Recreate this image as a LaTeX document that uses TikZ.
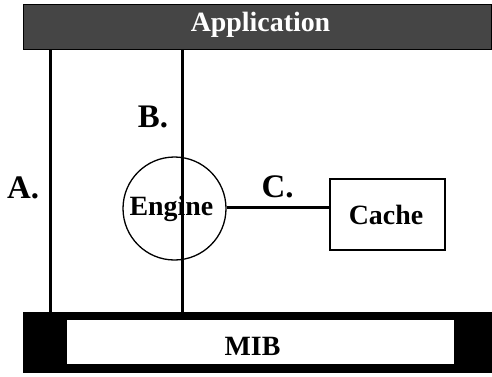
\documentclass[tikz,border=0pt]{standalone}
\usepackage{fontspec}
\setmainfont{Liberation Serif}
\usetikzlibrary{positioning}
\tikzset{
  bigtxt/.style={font=\bfseries\fontsize{28}{30}\selectfont, inner sep=0pt, anchor=base},
  tag/.style={font=\bfseries\fontsize{33}{36}\selectfont, inner sep=0pt, anchor=base},
  link/.style={line width=3bp}
}
\begin{document}
\begin{tikzpicture}[x=1bp,y=-1bp]
\useasboundingbox (0,0) rectangle (492,376);
\node[draw=black, fill=black!73, line width=1bp, minimum width=468bp, minimum height=45bp, inner sep=0pt] (app) at (257.5,26.5) {};
\node[fill=black, minimum width=469bp, minimum height=61bp, inner sep=0pt] (mib) at (257.5,342.5) {};
\fill[white] (67,320) rectangle (454,364);
\node[bigtxt, text=white] (apptxt) at (260.5,31.7) {Application};
\node[bigtxt] (mibtxt) at (252.5,355.7) {MIB};
\node[draw, circle, line width=1.3bp, minimum size=103bp, inner sep=0pt] (engine) at (174.5,208.5) {};
\node[bigtxt] (enginetxt) at (171.4,215.7) {Engine};
\node[draw, line width=1.3bp, minimum width=115bp, minimum height=71bp, inner sep=0pt] (cache) at (387.5,214.5) {};
\node[bigtxt] (cachetxt) at (386,224.5) {Cache};
\coordinate (ax) at (50,0);
\coordinate (bx) at (182,0);
\draw[link] (app.south -| ax) -- (mib.north -| ax);
\draw[link] (app.south -| bx) -- (mib.north -| bx);
\draw[link] (engine.east |- 0,207) -- (cache.west |- 0,207);
\node[tag] (lblA) at (23,198) {A.};
\node[tag] (lblB) at (153,127) {B.};
\node[tag] (lblC) at (277.5,197) {C.};
\end{tikzpicture}
\end{document}
